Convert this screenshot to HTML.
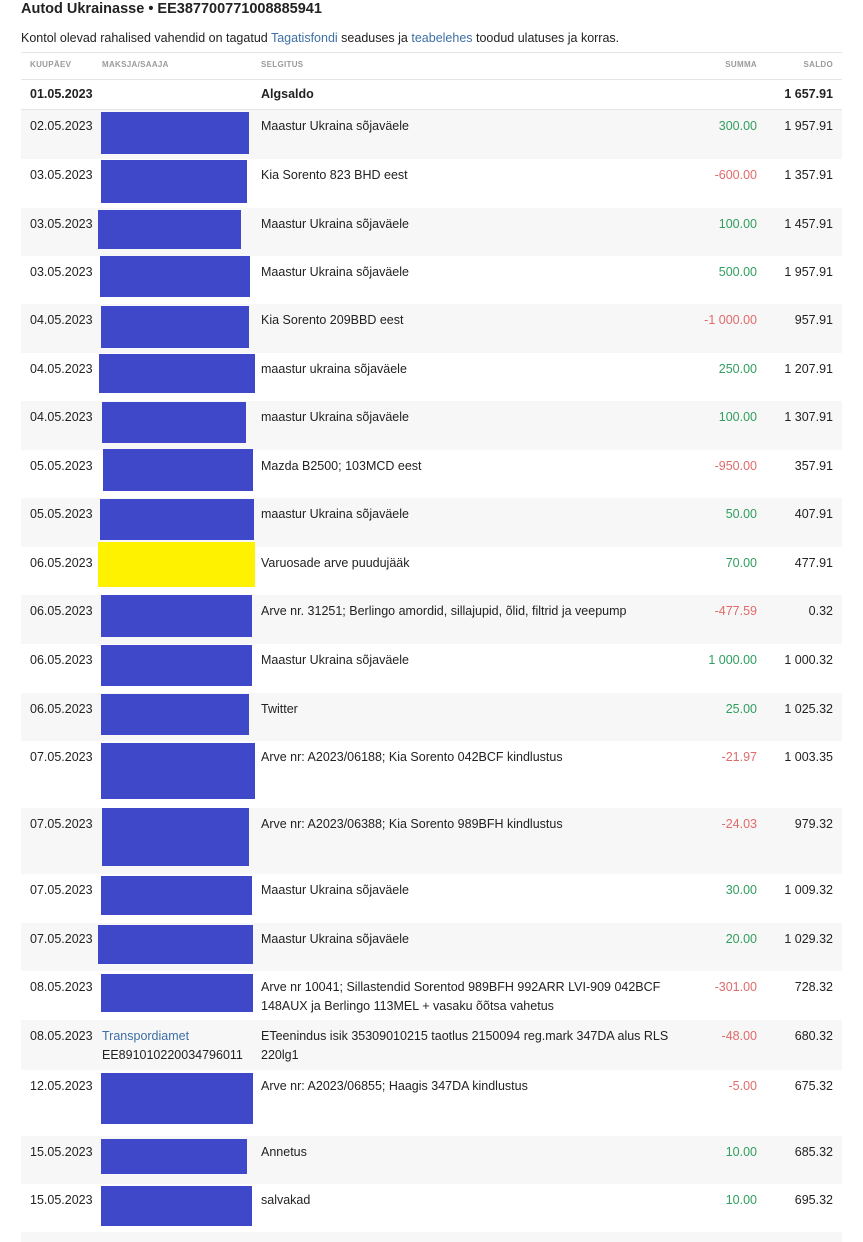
<!DOCTYPE html>
<html><head><meta charset="utf-8">
<style>
body{margin:0;width:863px;height:1242px;background:#fff;font-family:"Liberation Sans",sans-serif;color:#222;position:relative;overflow:hidden}
.a{position:absolute;white-space:nowrap}
.t{font-size:12.5px;line-height:21px}
.r{text-align:right}
.g{color:#2f9e5e}.n{color:#e06b6b}
.hd{font-size:8px;font-weight:bold;color:#9a9a9a;letter-spacing:.3px}
a{color:#3d6fa5;text-decoration:none}
</style></head><body>
<div class="a" style="left:21px;top:1px;font-size:14.5px;font-weight:bold;color:#222">Autod Ukrainasse • EE387700771008885941</div>
<div class="a" style="left:21px;top:31px;font-size:12.5px">Kontol olevad rahalised vahendid on tagatud <a>Tagatisfondi</a> seaduses ja <a>teabelehes</a> toodud ulatuses ja korras.</div>
<div class="a" style="left:21px;top:52px;width:821px;height:26px;border-top:1px solid #e4e4e4;border-bottom:1px solid #e4e4e4"></div>
<div class="a hd" style="left:30px;top:60px">KUUPÄEV</div>
<div class="a hd" style="left:102px;top:60px">MAKSJA/SAAJA</div>
<div class="a hd" style="left:261px;top:60px">SELGITUS</div>
<div class="a hd r" style="left:657px;width:100px;top:60px">SUMMA</div>
<div class="a hd r" style="left:733px;width:100px;top:60px">SALDO</div>
<div class="a t" style="left:30px;top:84px;font-weight:bold">01.05.2023</div>
<div class="a t" style="left:261px;top:84px;font-weight:bold">Algsaldo</div>
<div class="a t r" style="left:733px;width:100px;top:84px;font-weight:bold">1 657.91</div>
<div class="a" style="left:21px;top:109px;width:821px;height:1px;background:#e4e4e4"></div>
<div id="rows"></div>
<script>
const rowTops=[110,159,208,256,304,353,401,450,498,547,595,644,693,741,808,874,923,971,1020,1070,1136,1184,1232];
const dates=["02.05.2023","03.05.2023","03.05.2023","03.05.2023","04.05.2023","04.05.2023","04.05.2023","05.05.2023","05.05.2023","06.05.2023","06.05.2023","06.05.2023","06.05.2023","07.05.2023","07.05.2023","07.05.2023","07.05.2023","08.05.2023","08.05.2023","12.05.2023","15.05.2023","15.05.2023"];
const descs=["Maastur Ukraina sõjaväele","Kia Sorento 823 BHD eest","Maastur Ukraina sõjaväele","Maastur Ukraina sõjaväele","Kia Sorento 209BBD eest","maastur ukraina sõjaväele","maastur Ukraina sõjaväele","Mazda B2500; 103MCD eest","maastur Ukraina sõjaväele","Varuosade arve puudujääk","Arve nr. 31251; Berlingo amordid, sillajupid, õlid, filtrid ja veepump","Maastur Ukraina sõjaväele","Twitter","Arve nr: A2023/06188; Kia Sorento 042BCF kindlustus","Arve nr: A2023/06388; Kia Sorento 989BFH kindlustus","Maastur Ukraina sõjaväele","Maastur Ukraina sõjaväele","Arve nr 10041; Sillastendid Sorentod 989BFH 992ARR LVI-909 042BCF<br>148AUX ja Berlingo 113MEL + vasaku õõtsa vahetus","ETeenindus isik 35309010215 taotlus 2150094 reg.mark 347DA alus RLS<br>220lg1","Arve nr: A2023/06855; Haagis 347DA kindlustus","Annetus","salvakad"];
const amounts=[300,-600,100,500,-1000,250,100,-950,50,70,-477.59,1000,25,-21.97,-24.03,30,20,-301,-48,-5,10,10];
const balances=[1957.91,1357.91,1457.91,1957.91,957.91,1207.91,1307.91,357.91,407.91,477.91,0.32,1000.32,1025.32,1003.35,979.32,1009.32,1029.32,728.32,680.32,675.32,685.32,695.32];
const boxes=[[101,112,148,42],[101,160,146,43],[98,210,143,39],[100,256,150,41],[101,306,148,42],[99,354,156,39],[102,402,144,41],[103,449,150,42],[100,499,154,41],[98,542,157,45],[101,595,151,42],[101,645,151,41],[101,694,148,41],[101,743,154,56],[102,808,147,58],[101,876,151,39],[98,925,155,39],[101,974,152,38],null,[101,1073,152,51],[101,1139,146,35],[101,1186,151,40]];
function fmt(v){const s=Math.abs(v).toFixed(2).split('.');const i=s[0].replace(/\B(?=(\d{3})+(?!\d))/g,' ');return (v<0?'-':'')+i+'.'+s[1];}
const R=document.getElementById('rows');
function mk(cls,style,html){const d=document.createElement('div');d.className=cls;d.style.cssText=style;d.innerHTML=html;R.appendChild(d);return d;}
for(let i=0;i<rowTops.length;i++){
  if(i%2===0){const bg=mk('a','left:21px;top:'+rowTops[i]+'px;width:821px;height:'+((rowTops[i+1]||1242)-rowTops[i])+'px;background:#f7f7f7','');
  
  }
}
for(let i=0;i<dates.length;i++){
  const y=rowTops[i]+6;
  const d=mk('a t','left:30px;top:'+y+'px',dates[i]);
  
  
  const e=mk('a t','left:261px;top:'+y+'px;line-height:19px;padding-top:1px',descs[i]);
  
  
  const a=mk('a t r '+(amounts[i]<0?'n':'g'),'left:657px;width:100px;top:'+y+'px',fmt(amounts[i]));
  
  
  const b=mk('a t r','left:733px;width:100px;top:'+y+'px',fmt(balances[i]));
  
  
  const bx=boxes[i];
  if(bx){const r=mk('a','left:'+bx[0]+'px;top:'+bx[1]+'px;width:'+bx[2]+'px;height:'+bx[3]+'px;background:'+(i===9?'#fff200':'#3e48c9'),'');
  
  }
  else{const p=mk('a t','left:102px;top:'+y+'px;line-height:19px;padding-top:1px','<a>Transpordiamet</a><br>EE891010220034796011');
  
  }
}
</script>
</body></html>
